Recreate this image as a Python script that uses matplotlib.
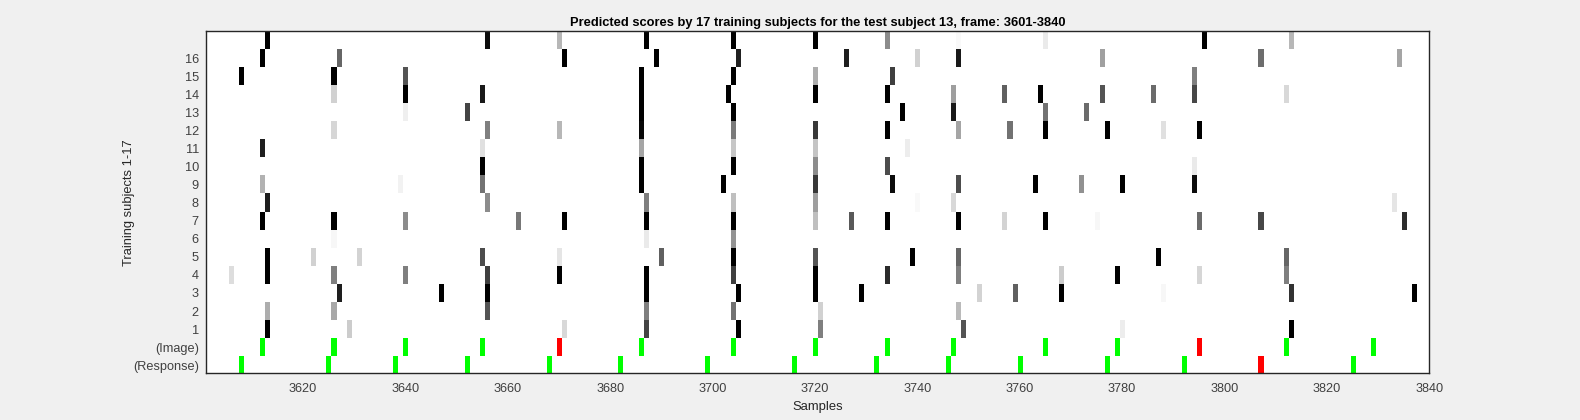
import matplotlib
matplotlib.use('Agg')
import matplotlib.pyplot as plt
import numpy as np

plt.rcParams['font.family'] = ['Liberation Sans', 'DejaVu Sans']

first_frame = 3601
last_frame = 3840

# frames and scores (1 = black), one pair per training subject
s1_frames = [3613, 3629, 3671, 3687, 3705, 3721, 3749, 3780, 3813]
s1_scores = [1, .2, .15, .73, 1, .5, .67, .07, 1]
s2_frames = [3613, 3626, 3656, 3687, 3704, 3721, 3748]
s2_scores = [.32, .34, .67, .5, .55, .18, .27]
s3_frames = [3627, 3647, 3656, 3687, 3705, 3720, 3729, 3752, 3759, 3768, 3788, 3813, 3837]
s3_scores = [.88, 1, 1, 1, 1, 1, 1, .17, .62, 1, .03, .8, 1]
s4_frames = [3606, 3613, 3626, 3640, 3656, 3670, 3687, 3704, 3720, 3734, 3748, 3768, 3779, 3795, 3812]
s4_scores = [.13, 1, .5, .5, .75, 1, 1, .75, 1, .83, .5, .2, 1, .16, .5]
s5_frames = [3613, 3622, 3631, 3655, 3670, 3690, 3704, 3720, 3739, 3748, 3787, 3812]
s5_scores = [1, .18, .17, .7, .1, .62, 1, .67, 1, .6, 1, .6]
s6_frames = [3626, 3687, 3704]
s6_scores = [.03, .08, .42]
s7_frames = [3612, 3626, 3640, 3662, 3671, 3687, 3704, 3720, 3727, 3734, 3748, 3757, 3765, 3775, 3795, 3807, 3835]
s7_scores = [1, 1, .45, .53, 1, 1, 1, .25, .65, 1, 1, .17, 1, .03, .58, .72, .82]
s8_frames = [3613, 3656, 3687, 3704, 3720, 3740, 3747, 3833]
s8_scores = [.88, .45, .5, .25, .38, .02, .15, .1]
s9_frames = [3612, 3639, 3655, 3686, 3702, 3720, 3735, 3748, 3763, 3772, 3780, 3794]
s9_scores = [.3, .05, .55, 1, 1, .78, .95, .7, 1, .43, 1, .95]
s10_frames = [3655, 3686, 3704, 3720, 3734, 3794]
s10_scores = [1, 1, 1, .45, .7, .08]
s11_frames = [3612, 3655, 3686, 3704, 3720, 3738]
s11_scores = [.88, .12, .35, .22, .23, .07]
s12_frames = [3626, 3656, 3670, 3686, 3704, 3720, 3734, 3748, 3758, 3765, 3777, 3788, 3795]
s12_scores = [.16, .5, .28, .97, .52, .78, 1, .35, .55, 1, 1, .12, 1]
s13_frames = [3640, 3652, 3686, 3704, 3737, 3747, 3765, 3773]
s13_scores = [.06, .73, 1, 1, 1, .9, .55, .58]
s14_frames = [3626, 3640, 3655, 3686, 3703, 3720, 3734, 3747, 3757, 3764, 3776, 3786, 3794, 3812]
s14_scores = [.18, 1, .9, 1, 1, 1, 1, .38, .62, 1, .67, .58, .72, .15]
s15_frames = [3608, 3626, 3640, 3686, 3704, 3720, 3735, 3794]
s15_scores = [1, 1, .67, 1, 1, .32, .75, .5]
s16_frames = [3612, 3627, 3671, 3689, 3705, 3726, 3740, 3748, 3776, 3807, 3834]
s16_scores = [1, .6, 1, 1, .87, .88, .18, .9, .37, .57, .35]
s17_frames = [3613, 3656, 3670, 3687, 3704, 3720, 3734, 3748, 3765, 3796, 3813]
s17_scores = [1, .95, .28, 1, 1, 1, .45, .02, .08, 1, .28]

subject_frames = [s1_frames, s2_frames, s3_frames, s4_frames, s5_frames, s6_frames,
                  s7_frames, s8_frames, s9_frames, s10_frames, s11_frames, s12_frames,
                  s13_frames, s14_frames, s15_frames, s16_frames, s17_frames]
subject_scores = [s1_scores, s2_scores, s3_scores, s4_scores, s5_scores, s6_scores,
                  s7_scores, s8_scores, s9_scores, s10_scores, s11_scores, s12_scores,
                  s13_scores, s14_scores, s15_scores, s16_scores, s17_scores]

image_frames = [3612, 3626, 3640, 3655, 3670, 3686, 3704, 3720, 3734, 3747, 3765, 3779, 3795, 3812, 3829]
image_ok = [1, 1, 1, 1, 0, 1, 1, 1, 1, 1, 1, 1, 0, 1, 1]
response_frames = [3608, 3625, 3638, 3652, 3668, 3682, 3699, 3716, 3732, 3746, 3760, 3777, 3792, 3807, 3825]
response_ok = [1, 1, 1, 1, 1, 1, 1, 1, 1, 1, 1, 1, 1, 0, 1]

row_labels = ['(Response)', '(Image)', '1', '2', '3', '4', '5', '6', '7', '8', '9',
              '10', '11', '12', '13', '14', '15', '16']
x_ticks = [3620, 3640, 3660, 3680, 3700, 3720, 3740, 3760, 3780, 3800, 3820, 3840]

# row 0 is the response, row 1 the image, the subjects go above them
n_cols = last_frame - first_frame + 1
img = np.ones((19, n_cols, 3))
for i in range(17):
    for f, s in zip(subject_frames[i], subject_scores[i]):
        img[i + 2, f - first_frame] = 1 - s
for f, ok in zip(image_frames, image_ok):
    img[1, f - first_frame] = (0, 1, 0) if ok else (1, 0, 0)
for f, ok in zip(response_frames, response_ok):
    img[0, f - first_frame] = (0, 1, 0) if ok else (1, 0, 0)

fig = plt.figure(figsize=(15.8, 4.2), dpi=100, facecolor='#f0f0f0')
ax = fig.add_axes([205.7 / 1580, (420 - 373.3) / 420, 1223.6 / 1580, 342 / 420])
ax.imshow(img, origin='lower', aspect='auto', interpolation='nearest',
          extent=[first_frame - 0.5, last_frame + 0.5, -0.5, 18.5])
ax.set_xlim(first_frame, last_frame)
ax.set_ylim(-0.45, 18.5)

ax.set_xticks(x_ticks)
ax.set_yticks(range(18))
ax.set_yticklabels(row_labels)
ax.tick_params(length=0, labelsize=9.2, labelcolor='#404040')
ax.tick_params(axis='x', pad=7)
ax.tick_params(axis='y', pad=5)
for side in ax.spines.values():
    side.set_color('#262626')
    side.set_linewidth(1)

ax.set_xlabel('Samples', fontsize=9.4, color='#262626', labelpad=4.2)
ax.set_ylabel('Training subjects 1-17', fontsize=9.3, color='#262626', labelpad=-1.5, y=0.5)
ax.set_title('Predicted scores by 17 training subjects for the test subject 13, frame: 3601-3840',
             fontsize=9.3, fontweight='bold', color='black', pad=4)

fig.savefig('out.png', dpi=100, facecolor=fig.get_facecolor())
